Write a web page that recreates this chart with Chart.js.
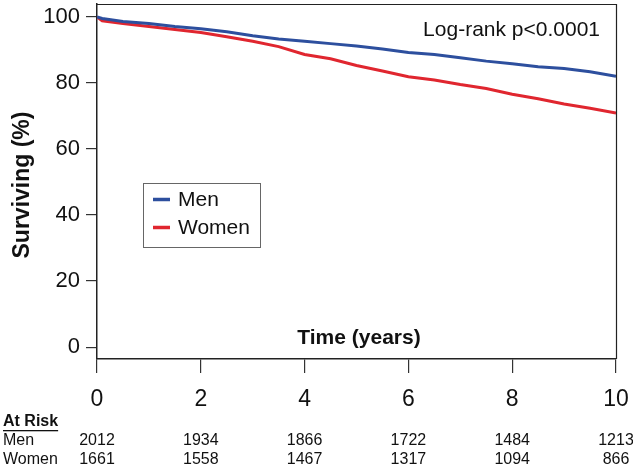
<!DOCTYPE html>
<html>
<head>
<meta charset="utf-8">
<script src="https://cdn.jsdelivr.net/npm/chart.js@4"></script>
<style>
    html, body { margin: 0; padding: 0; background: #fff; }
    #wrap { width: 633px; height: 472px; position: relative; }
</style>
</head>
<body>
<div id="wrap"><canvas id="kmChart"></canvas></div>
<script>
// Survival data, time in years
const years = [0, 0.1, 0.5, 1, 1.5, 2, 2.5, 3, 3.5, 4, 4.5, 5, 5.5, 6, 6.5, 7, 7.5, 8, 8.5, 9, 9.5, 10];
const menSurv = [100, 99.5, 98.6, 98.0, 97.1, 96.4, 95.5, 94.3, 93.3, 92.6, 91.9, 91.2, 90.3, 89.2, 88.6, 87.6, 86.6, 85.8, 84.9, 84.4, 83.4, 82.0];
const womenSurv = [100, 98.8, 98.0, 97.1, 96.2, 95.3, 94.0, 92.6, 91.0, 88.6, 87.3, 85.3, 83.6, 81.9, 80.9, 79.5, 78.3, 76.6, 75.2, 73.6, 72.3, 70.9];

// At-risk table
const riskTimes = [0, 2, 4, 6, 8, 10];
const menAtRisk = [2012, 1934, 1866, 1722, 1484, 1213];
const womenAtRisk = [1661, 1558, 1467, 1317, 1094, 866];

const yTicks = [0, 20, 40, 60, 80, 100];
const pValueText = 'Log-rank p<0.0001';

const FONT = 'Liberation Sans, Arial, Helvetica, sans-serif';
const MEN_COLOR = '#2d4f9e';
const WOMEN_COLOR = '#e0262f';

const toPoints = (xs, ys) => xs.map((x, i) => ({ x: x, y: ys[i] }));

// Box, legend, titles and at-risk table
const annotations = {
    id: 'annotations',
    afterDraw(chart) {
        const { ctx, chartArea: a, scales } = chart;
        const xs = scales.x;
        ctx.save();

        // top and right border of the box
        ctx.strokeStyle = '#222';
        ctx.lineWidth = 1.2;
        ctx.beginPath();
        ctx.moveTo(a.left, a.top + 0.5);
        ctx.lineTo(a.right + 0.5, a.top + 0.5);
        ctx.lineTo(a.right + 0.5, a.bottom);
        ctx.stroke();

        ctx.fillStyle = '#111';

        // log-rank text
        ctx.font = '21px ' + FONT;
        ctx.textAlign = 'right';
        ctx.textBaseline = 'middle';
        ctx.fillText(pValueText, 600, 30);

        // axis titles
        ctx.font = 'bold 21px ' + FONT;
        ctx.textAlign = 'center';
        ctx.fillText('Time (years)', 359, 338);
        ctx.save();
        ctx.translate(23, 185);
        ctx.rotate(-Math.PI / 2);
        ctx.font = 'bold 23px ' + FONT;
        ctx.fillText('Surviving (%)', 0, 0);
        ctx.restore();

        // legend
        ctx.strokeStyle = '#666';
        ctx.lineWidth = 1;
        ctx.strokeRect(143.5, 183.5, 117, 64);
        chart.data.datasets.forEach((ds, i) => {
            const y = 199.5 + i * 28;
            ctx.strokeStyle = ds.borderColor;
            ctx.lineWidth = 3.5;
            ctx.beginPath();
            ctx.moveTo(153, y);
            ctx.lineTo(170, y);
            ctx.stroke();
            ctx.fillStyle = '#111';
            ctx.font = '21px ' + FONT;
            ctx.textAlign = 'left';
            ctx.fillText(ds.label, 178, y + 1);
        });

        // at-risk table
        ctx.fillStyle = '#111';
        ctx.textAlign = 'left';
        ctx.font = 'bold 16px ' + FONT;
        ctx.fillText('At Risk', 3, 422);
        const w = ctx.measureText('At Risk').width;
        ctx.fillRect(3, 430, w, 1.3);
        ctx.font = '16px ' + FONT;
        ctx.fillText('Men', 3, 441);
        ctx.fillText('Women', 3, 460);
        ctx.textAlign = 'center';
        riskTimes.forEach((t, i) => {
            let px = xs.getPixelForValue(t);
            ctx.fillText(String(menAtRisk[i]), px, 441);
            ctx.fillText(String(womenAtRisk[i]), px, 460);
        });
        ctx.restore();
    }
};

new Chart(document.getElementById('kmChart'), {
    type: 'line',
    data: {
        datasets: [
            {
                label: 'Men',
                data: toPoints(years, menSurv),
                borderColor: MEN_COLOR,
                borderWidth: 3,
                pointRadius: 0,
                tension: 0
            },
            {
                label: 'Women',
                data: toPoints(years, womenSurv),
                borderColor: WOMEN_COLOR,
                borderWidth: 3,
                pointRadius: 0,
                tension: 0
            }
        ]
    },
    options: {
        responsive: true,
        maintainAspectRatio: false,
        animation: false,
        layout: { padding: { top: 4, right: 17, left: 0, bottom: 0 } },
        plugins: {
            legend: { display: false },
            tooltip: { enabled: false }
        },
        scales: {
            x: {
                type: 'linear',
                min: 0,
                max: 10,
                afterFit: (scale) => {
                    scale.height = 113;
                    scale.paddingLeft = 0;
                    scale.paddingRight = 0;
                },
                ticks: {
                    stepSize: 2,
                    color: '#111',
                    padding: 13,
                    font: { family: FONT, size: 23 }
                },
                grid: {
                    drawOnChartArea: false,
                    drawTicks: true,
                    tickLength: 14,
                    color: '#333',
                    lineWidth: 1.2
                },
                border: { display: true, color: '#222', width: 1.5 }
            },
            y: {
                min: -3.6,
                max: 103.9,
                afterFit: (scale) => {
                    scale.width = 97;
                    scale.paddingTop = 0;
                    scale.paddingBottom = 0;
                },
                afterBuildTicks: (scale) => {
                    scale.ticks = yTicks.map(v => ({ value: v }));
                },
                ticks: {
                    color: '#111',
                    padding: 6,
                    font: { family: FONT, size: 22 }
                },
                grid: {
                    drawOnChartArea: false,
                    drawTicks: true,
                    tickLength: 11,
                    color: '#333',
                    lineWidth: 1.2
                },
                border: { display: true, color: '#222', width: 1.5 }
            }
        }
    },
    plugins: [annotations]
});
</script>
</body>
</html>
